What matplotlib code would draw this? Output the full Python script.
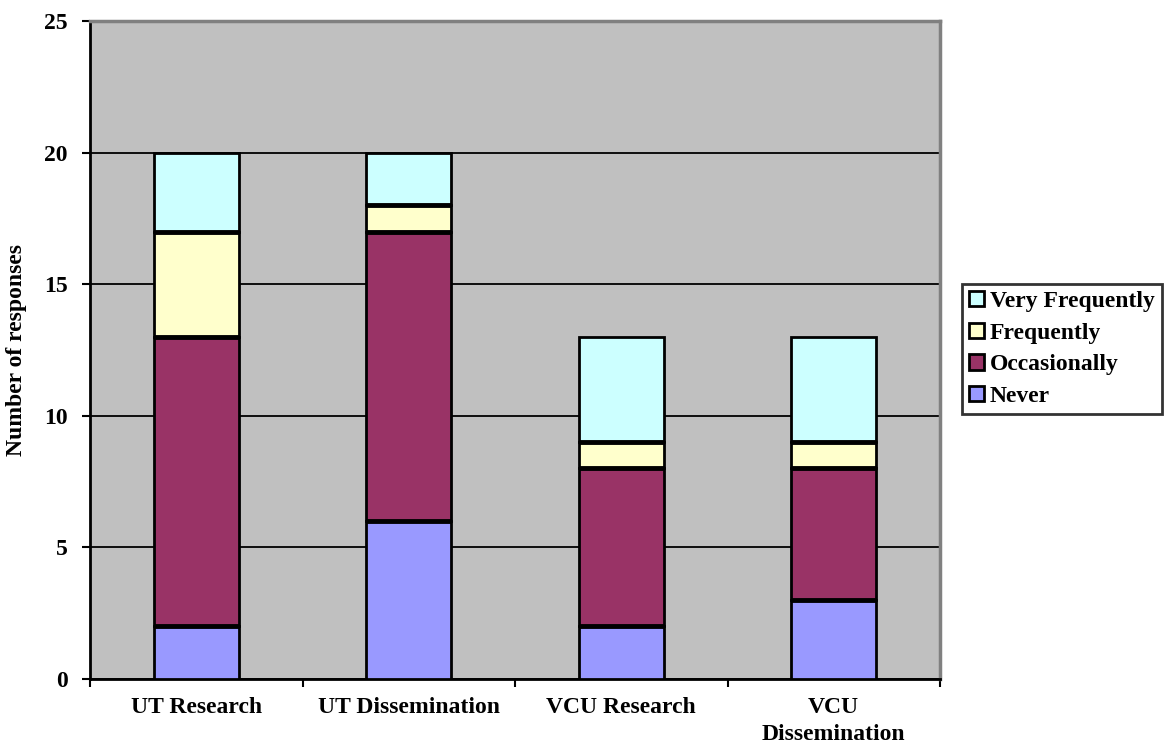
import matplotlib
matplotlib.use("Agg")
import matplotlib.pyplot as plt
import numpy as np

categories = ["UT Research", "UT Dissemination", "VCU Research", "VCU\nDissemination"]
never = [2, 6, 2, 3]
occasionally = [11, 11, 6, 5]
frequently = [4, 1, 1, 1]
very_frequently = [3, 2, 4, 4]

series = [
    ("Never", never, "#9999FF"),
    ("Occasionally", occasionally, "#993366"),
    ("Frequently", frequently, "#FFFFCC"),
    ("Very Frequently", very_frequently, "#CCFFFF"),
]

plt.rcParams["font.family"] = ["Liberation Serif", "DejaVu Serif"]
plt.rcParams["font.weight"] = "bold"

W, H = 1167, 745
fig = plt.figure(figsize=(W / 100, H / 100), dpi=100)
ax = fig.add_axes([90 / W, 1 - 679 / H, (940 - 90) / W, (679 - 21) / H])
ax.set_facecolor("#C0C0C0")

x = np.arange(len(categories))
bar_w = 0.4
bottom = np.zeros(len(categories))
handles = []
for name, vals, color in series:
    b = ax.bar(x, vals, bottom=bottom, width=bar_w, color=color,
               edgecolor="black", linewidth=2, label=name, zorder=3)
    handles.append(b)
    bottom += np.array(vals)
    # heavier seam between stacked segments
    if name != series[-1][0]:
        ax.hlines(bottom, x - bar_w / 2, x + bar_w / 2, color="black",
                  linewidth=3.5, zorder=4)

ax.set_xlim(-0.5, len(categories) - 0.5)
ax.set_ylim(0, 25)
ax.set_yticks([0, 5, 10, 15, 20, 25])
ax.yaxis.grid(True, color="black", linewidth=1.3, zorder=1)
ax.set_axisbelow(True)

ax.set_xticks(x)
ax.set_xticklabels(categories, fontsize=17, fontweight="bold", linespacing=1.4)
ax.tick_params(axis="x", length=0, pad=13)
ax.set_xticks(np.arange(-0.5, len(categories)), minor=True)
ax.tick_params(axis="x", which="minor", length=6, width=1.5, direction="out")
ax.tick_params(axis="y", length=6, width=1.5, direction="out", labelsize=17, pad=10)
for lab in ax.get_yticklabels():
    lab.set_fontweight("bold")

for side in ["top", "right"]:
    ax.spines[side].set_color("#808080")
    ax.spines[side].set_linewidth(2.5)
for side in ["left", "bottom"]:
    ax.spines[side].set_color("black")
    ax.spines[side].set_linewidth(2)

ax.set_ylabel("Number of responses", fontsize=17, fontweight="bold", labelpad=12)

leg = fig.legend(handles[::-1], [s[0] for s in series][::-1],
                 loc="upper left", bbox_to_anchor=(962 / W, 1 - 284 / H),
                 fontsize=17, frameon=True, fancybox=False, edgecolor="black",
                 handlelength=0.62, handleheight=0.62, handletextpad=0.25,
                 borderpad=0.3, labelspacing=0.45, borderaxespad=0)
leg.get_frame().set_linewidth(2)
for t in leg.get_texts():
    t.set_fontweight("bold")
for p in leg.get_patches():
    p.set_linewidth(2)

fig.savefig("out.png", dpi=100)
